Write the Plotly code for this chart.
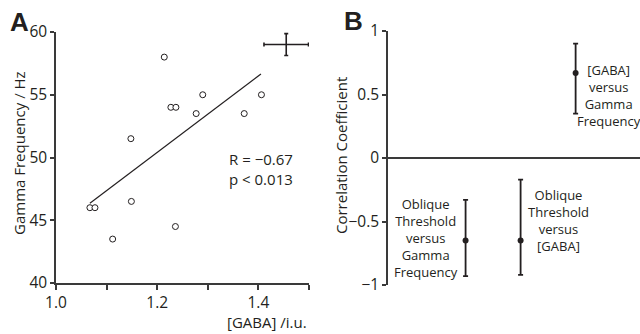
import plotly.graph_objects as go

# Panel A data
gaba = [1.214, 1.227, 1.237, 1.290, 1.277, 1.372, 1.406, 1.148, 1.067, 1.077, 1.149, 1.112, 1.236]
gamma = [58.0, 54.0, 54.0, 55.0, 53.5, 53.5, 55.0, 51.5, 46.0, 46.0, 46.5, 43.5, 44.5]
fit_x = [1.067, 1.405]
fit_y = [46.35, 56.65]
err_x = [1.455]
err_y = [59.0]
err_dx = [0.044]
err_dy = [0.87]

# Panel B data
comp_pos = [1, 2, 3]
corr = [-0.65, -0.65, 0.67]
ci_plus = [0.32, 0.48, 0.23]
ci_minus = [0.28, 0.27, 0.32]
comp_labels = ["Oblique<br>Threshold<br>versus<br>Gamma<br>Frequency",
               "Oblique<br>Threshold<br>versus<br>[GABA]",
               "[GABA]<br>versus<br>Gamma<br>Frequency"]
label_x = [0.28, 2.68, 3.61]
label_y = [-0.63, -0.49, 0.49]

INK = "#231f20"
AX = "#3a3a3a"
FONT = "Open Sans"

fig = go.Figure()

fig.add_trace(go.Scatter(x=fit_x, y=fit_y, mode="lines", line=dict(color=INK, width=1.2),
                         xaxis="x", yaxis="y", showlegend=False, hoverinfo="skip"))
fig.add_trace(go.Scatter(x=gaba, y=gamma, mode="markers",
                         marker=dict(size=6, color="white", line=dict(color=INK, width=1)),
                         xaxis="x", yaxis="y", showlegend=False))
fig.add_trace(go.Scatter(x=err_x, y=err_y, mode="markers", marker=dict(size=1, color=INK),
                         error_x=dict(type="data", array=err_dx, color=INK, thickness=1.6, width=2),
                         error_y=dict(type="data", array=err_dy, color=INK, thickness=1.6, width=2),
                         xaxis="x", yaxis="y", showlegend=False))

fig.add_trace(go.Scatter(x=comp_pos, y=corr, mode="markers",
                         marker=dict(size=6, color=INK),
                         error_y=dict(type="data", symmetric=False, array=ci_plus, arrayminus=ci_minus,
                                      color=INK, thickness=1.8, width=2.5),
                         xaxis="x2", yaxis="y2", showlegend=False))

tickfont = dict(family=FONT, size=15.5, color=INK)

fig.update_layout(
    width=640, height=334,
    margin=dict(l=0, r=0, t=0, b=0, pad=0),
    paper_bgcolor="white", plot_bgcolor="white",
    xaxis=dict(domain=[56/640, 309/640], range=[1.0, 1.5], anchor="y", automargin=False,
               tickvals=[1.0, 1.1, 1.2, 1.3, 1.4, 1.5],
               ticktext=["1.0", "", "1.2", "", "1.4", ""],
               showline=True, linecolor=AX, linewidth=1.5, ticks="outside", ticklen=5,
               tickcolor=AX, tickwidth=1.5, showgrid=False, zeroline=False, tickfont=tickfont),
    yaxis=dict(domain=[1-283/334, 1-32/334], range=[40, 60], anchor="x", automargin=False,
               tickvals=[40, 45, 50, 55, 60],
               showline=True, linecolor=AX, linewidth=1.5, ticks="outside", ticklen=4,
               tickcolor=AX, tickwidth=1.5, showgrid=False, zeroline=False, tickfont=tickfont),
    xaxis2=dict(domain=[388/640, 1.0], range=[-0.41, 4.17], anchor="y2", automargin=False,
                visible=False, showgrid=False, zeroline=False),
    yaxis2=dict(domain=[1-285/334, 1-31/334], range=[-1, 1], anchor="x2", automargin=False,
                tickvals=[-1, -0.5, 0, 0.5, 1],
                ticktext=["\u22121", "\u22120.5", "0", "0.5", "1"],
                showline=True, linecolor=AX, linewidth=1.5, ticks="outside", ticklen=4,
                tickcolor=AX, tickwidth=1.5, showgrid=False,
                zeroline=True, zerolinecolor=AX, zerolinewidth=1.5, tickfont=tickfont),
)

ann = []
ann.append(dict(text="<b>A</b>", x=19/640, y=1-22/334, xref="paper", yref="paper",
                xanchor="center", yanchor="middle", showarrow=False,
                font=dict(family="Liberation Sans", size=26, color=INK)))
ann.append(dict(text="<b>B</b>", x=353/640, y=1-21/334, xref="paper", yref="paper",
                xanchor="center", yanchor="middle", showarrow=False,
                font=dict(family="Liberation Sans", size=26, color=INK)))
ann.append(dict(text="Gamma Frequency / Hz", x=19/640, y=1-153/334, xref="paper", yref="paper",
                textangle=-90, showarrow=False, xanchor="center", yanchor="middle",
                font=dict(family=FONT, size=15, color=INK)))
ann.append(dict(text="Correlation Coefficient", x=341/640, y=1-156/334, xref="paper", yref="paper",
                textangle=-90, showarrow=False, xanchor="center", yanchor="middle",
                font=dict(family=FONT, size=15, color=INK)))
ann.append(dict(text="[GABA] /i.u.", x=309/640, y=1-322/334, xref="paper", yref="paper",
                showarrow=False, xanchor="right", yanchor="middle",
                font=dict(family=FONT, size=15, color=INK)))
ann.append(dict(text="R = \u22120.67<br>p < 0.013", x=227/640, y=1-169/334, xref="paper", yref="paper",
                showarrow=False, xanchor="left", yanchor="middle", align="left",
                font=dict(family=FONT, size=15, color=INK)))
for lx, ly, lt in zip(label_x, label_y, comp_labels):
    ann.append(dict(text=lt, x=lx, y=ly, xref="x2", yref="y2", showarrow=False,
                    xanchor="center", yanchor="middle", align="center",
                    font=dict(family=FONT, size=13, color=INK)))
fig.update_layout(annotations=ann)

fig.write_html("out.html")
